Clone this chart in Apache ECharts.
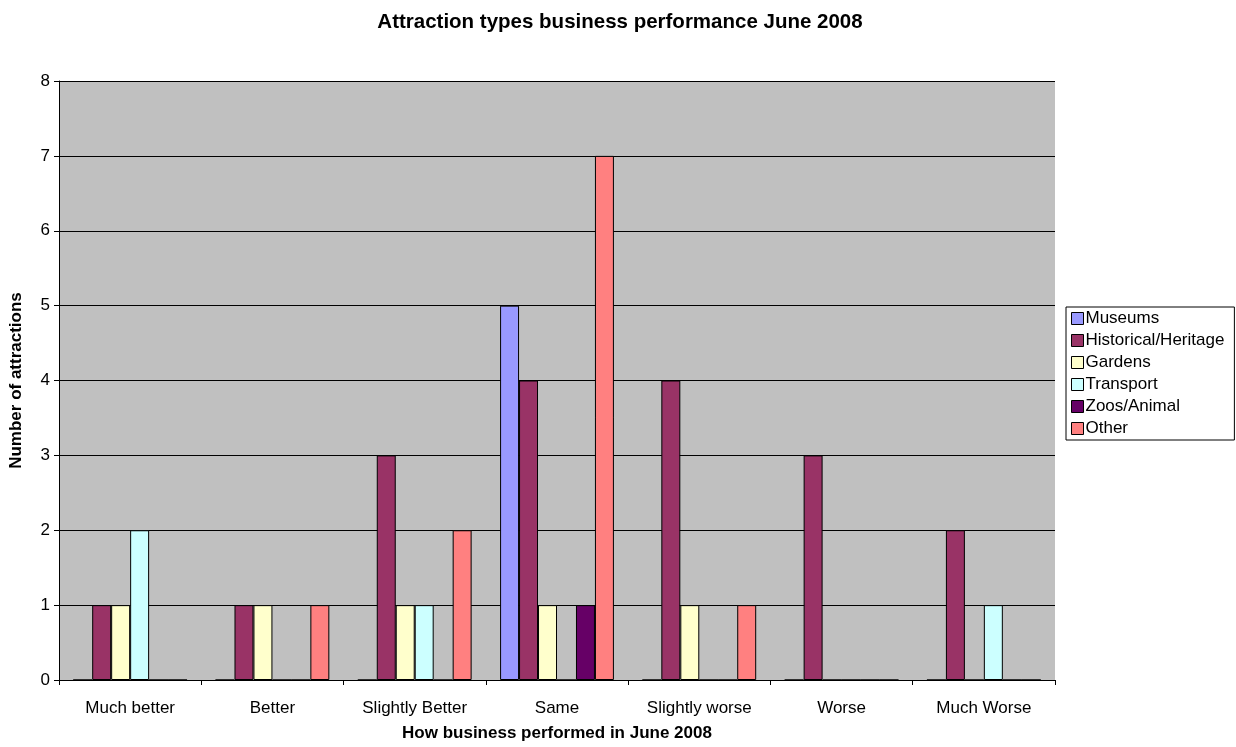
<!DOCTYPE html>
<html><head><meta charset="utf-8">
<script src="https://cdn.jsdelivr.net/npm/echarts@6/dist/echarts.min.js"></script>
<style>html,body{margin:0;padding:0;background:#fff}#c{width:1236px;height:747px}</style>
</head><body><div id="c"></div>
<script>
const categories = ['Much better','Better','Slightly Better','Same','Slightly worse','Worse','Much Worse'];
const museums = [0,0,0,5,0,0,0];
const historical = [1,1,3,4,4,3,2];
const gardens = [1,1,1,1,1,0,0];
const transport = [2,0,1,0,0,0,1];
const zoos = [0,0,0,1,0,0,0];
const other = [0,1,2,7,1,0,0];
const seriesNames = ['Museums','Historical/Heritage','Gardens','Transport','Zoos/Animal','Other'];
const seriesData = [museums, historical, gardens, transport, zoos, other];
const colors = ['#9999FF','#993366','#FFFFCC','#CCFFFF','#660066','#FF8080'];
const F = 'Liberation Sans, Arial, sans-serif';
const chart = echarts.init(document.getElementById('c'));
chart.setOption({
  animation: false,
  title: {text: 'Attraction types business performance June 2008', left: 615, textAlign: 'center', top: 7,
    textStyle: {fontFamily: F, fontSize: 20.5, fontWeight: 'bold', color: '#000'}},
  grid: {left: 59, right: 181, top: 81, bottom: 65, show: true, backgroundColor: '#C0C0C0', borderWidth: 0},
  legend: {orient: 'vertical', left: 1066, top: 307, width: 175, itemWidth: 12, itemHeight: 12, itemGap: 5,
    padding: [3, 10, 3, 5], borderColor: '#000', borderWidth: 1, backgroundColor: '#fff',
    textStyle: {fontFamily: F, fontSize: 17, color: '#000', padding: [0,0,0,-3]},
    data: seriesNames.map(n => ({name: n, icon: 'rect', itemStyle: {borderColor: '#000', borderWidth: 1}}))},
  xAxis: {type: 'category', data: categories,
    name: 'How business performed in June 2008', nameLocation: 'middle', nameGap: 45,
    nameTextStyle: {fontFamily: F, fontSize: 17, fontWeight: 'bold', color: '#000'},
    axisLine: {lineStyle: {color: '#000'}}, axisTick: {show: true, length: 5, lineStyle: {color: '#000'}},
    axisLabel: {fontFamily: F, fontSize: 17, color: '#000', margin: 20}},
  yAxis: {type: 'value', min: 0, max: 8, interval: 1,
    name: 'Number of attractions', nameLocation: 'middle', nameGap: 34,
    nameTextStyle: {fontFamily: F, fontSize: 17, fontWeight: 'bold', color: '#000'},
    axisLine: {show: true, lineStyle: {color: '#000'}}, axisTick: {show: true, length: 5, lineStyle: {color: '#000'}},
    splitLine: {lineStyle: {color: '#000', width: 1}},
    axisLabel: {fontFamily: F, fontSize: 17, color: '#000', margin: 9}},
  series: seriesNames.map((n, i) => ({
    name: n, type: 'bar', data: seriesData[i], barGap: '0%', barCategoryGap: '20%',
    itemStyle: {color: colors[i], borderColor: '#000', borderWidth: 1}
  }))
});
</script></body></html>
